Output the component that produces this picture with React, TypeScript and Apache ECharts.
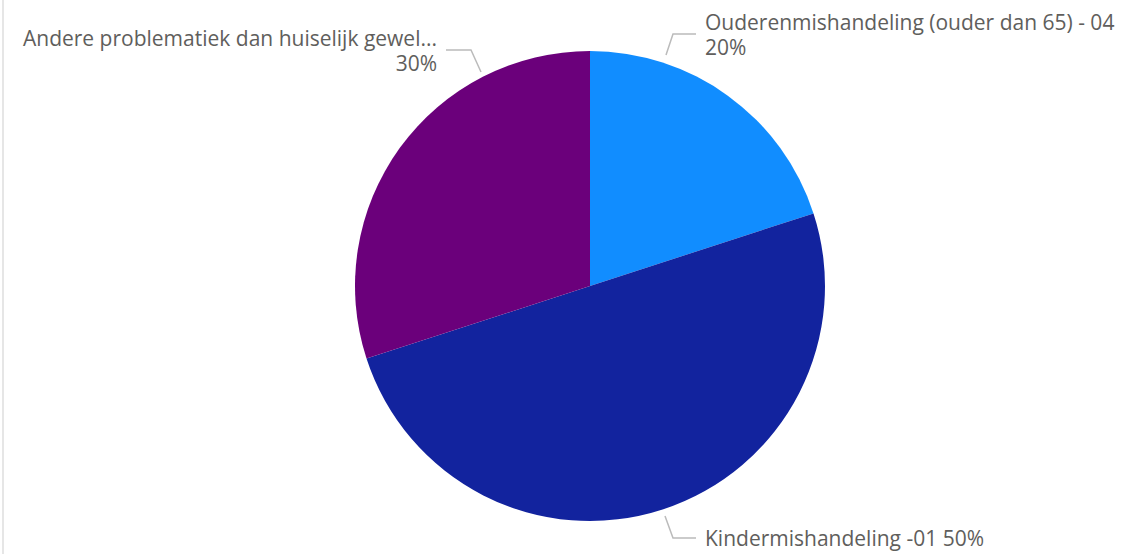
import React, { useEffect, useRef } from "react";
import * as echarts from "echarts";

const categories = [
  "Ouderenmishandeling (ouder dan 65) - 04",
  "Kindermishandeling -01",
  "Andere problematiek dan huiselijk gewel...",
];
const values = [20, 50, 30];
const colors = ["#118DFF", "#12239E", "#6B007B"];

// label guide lines (layout only)
const labelLines: number[][][] = [
  [[666, 55], [673, 34], [696, 34]],
  [[665, 516], [673, 538], [696, 538]],
  [[481, 72], [471, 50], [446, 50]],
];
const labelPos = [
  { x: 705, y: 34, align: "left" },
  { x: 705, y: 538, align: "left" },
  { x: 437, y: 50, align: "right" },
];
const labelFormats = ["{b}\n{d}%", "{b} {d}%", "{b}\n{d}%"];

export default function App() {
  const ref = useRef<HTMLDivElement>(null);
  useEffect(() => {
    document.body.style.margin = "0";
    const chart = echarts.init(ref.current!, undefined, { renderer: "svg" });
    chart.setOption({
      animation: false,
      backgroundColor: "#ffffff",
      graphic: [
        {
          type: "rect",
          left: 2,
          top: 0,
          shape: { width: 2, height: 554 },
          style: { fill: "#E6E6E6" },
          silent: true,
        },
      ],
      series: [
        {
          type: "pie",
          center: [590, 286],
          radius: 235,
          startAngle: 90,
          clockwise: true,
          avoidLabelOverlap: false,
          itemStyle: { borderWidth: 0 },
          label: {
            show: true,
            position: "outside",
            fontFamily: "Open Sans",
            fontSize: 21,
            lineHeight: 25,
            color: "#605E5C",
          },
          labelLine: {
            show: true,
            lineStyle: { color: "#BBBBBB", width: 1.5 },
          },
          labelLayout: (params: any) => {
            const i = params.dataIndex;
            return {
              x: labelPos[i].x,
              y: labelPos[i].y,
              align: labelPos[i].align,
              verticalAlign: "middle",
              labelLinePoints: labelLines[i],
            };
          },
          data: categories.map((name, i) => ({
            name,
            value: values[i],
            itemStyle: { color: colors[i] },
            label: {
              formatter: labelFormats[i],
              align: labelPos[i].align,
            },
          })),
        },
      ],
    });
    return () => chart.dispose();
  }, []);
  return <div ref={ref} style={{ width: 1123, height: 554 }} />;
}
